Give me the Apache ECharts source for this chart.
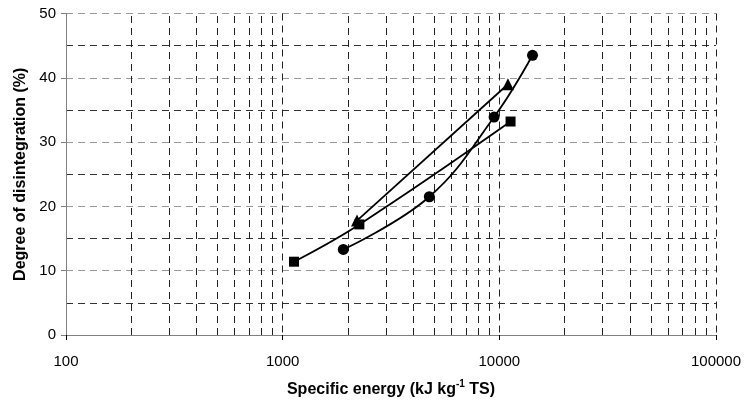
<!DOCTYPE html>
<html><head><meta charset="utf-8">
<script src="https://cdn.jsdelivr.net/npm/echarts@6/dist/echarts.min.js"></script>
<style>html,body{margin:0;padding:0;background:#fff}#c{width:744px;height:403px}</style>
</head><body><div id="c"></div>
<script>
const squareX = [1128, 2260, 11270];
const squareY = [11.4, 17.2, 33.2];
const circleX = [1905, 4753, 9460, 14230];
const circleY = [13.3, 21.5, 33.9, 43.5];
const triangleX = [2204, 10960];
const triangleY = [17.8, 39.0];
const minorXLines = [200,300,400,500,600,700,800,900,2000,3000,4000,5000,6000,7000,8000,9000,20000,30000,40000,50000,60000,70000,80000,90000];
const yTicks = [0, 10, 20, 30, 40, 50];

const zip = (xs, ys) => xs.map((x, i) => [x, ys[i]]);
const font = '"Liberation Sans", Arial, sans-serif';
const chart = echarts.init(document.getElementById('c'), null, {renderer: 'canvas'});
const base = {type: 'line', color: '#000', lineStyle: {color: '#000', width: 1.8}, itemStyle: {color: '#000'}, z: 5};
chart.setOption({
  animation: false,
  grid: {left: 66, right: 28, top: 13.5, bottom: 67.5, containLabel: false},
  xAxis: {
    type: 'log', logBase: 10, min: 100, max: 100000,
    name: 'Specific energy (kJ kg{sup|-1} TS)', nameLocation: 'middle', nameGap: 44,
    nameTextStyle: {fontFamily: font, fontSize: 16, fontWeight: 'bold', color: '#000',
      rich: {sup: {fontFamily: font, fontSize: 10, fontWeight: 'bold', verticalAlign: 'top', padding: [0,0,12,0], color: '#000'}}},
    axisLine: {lineStyle: {color: '#808080', width: 1}},
    axisTick: {show: true, inside: false, length: 5, lineStyle: {color: '#000'}},
    axisLabel: {fontFamily: font, fontSize: 15, color: '#000', margin: 19, formatter: v => String(Math.round(v))},
    splitLine: {show: true, lineStyle: {color: '#222', type: [7, 5], width: 1}},
    minorTick: {show: false}
  },
  yAxis: {
    type: 'value', min: 0, max: 50, interval: 10,
    name: 'Degree of disintegration (%)', nameLocation: 'middle', nameGap: 37,
    nameTextStyle: {fontFamily: font, fontSize: 16, fontWeight: 'bold', color: '#000'},
    axisLine: {show: true, lineStyle: {color: '#808080', width: 1}},
    axisTick: {show: true, inside: false, length: 5, lineStyle: {color: '#808080'}},
    axisLabel: {fontFamily: font, fontSize: 15, color: '#000', margin: 10,
      formatter: v => yTicks.includes(v) ? String(v) : ''},
    splitLine: {show: true, lineStyle: {color: '#999', type: [7, 5], width: 1}},
    minorTick: {show: false, splitNumber: 2},
    minorSplitLine: {show: true, lineStyle: {color: '#333', type: [7, 5], width: 1}}
  },
  series: [
    {type: 'line', data: [], silent: true, z: 1,
      markLine: {silent: true, symbol: 'none', label: {show: false},
        lineStyle: {color: '#222', type: [7, 5], width: 1},
        data: minorXLines.map(v => ({xAxis: v}))}},
    Object.assign({}, base, {name: 'square', data: zip(squareX, squareY), smooth: 0.4, symbol: 'rect', symbolSize: 10}),
    Object.assign({}, base, {name: 'circle', data: zip(circleX, circleY), smooth: 0.4, symbol: 'circle', symbolSize: 11}),
    Object.assign({}, base, {name: 'triangle', data: zip(triangleX, triangleY), smooth: false, symbol: 'triangle', symbolSize: 12})
  ]
});
</script></body></html>
